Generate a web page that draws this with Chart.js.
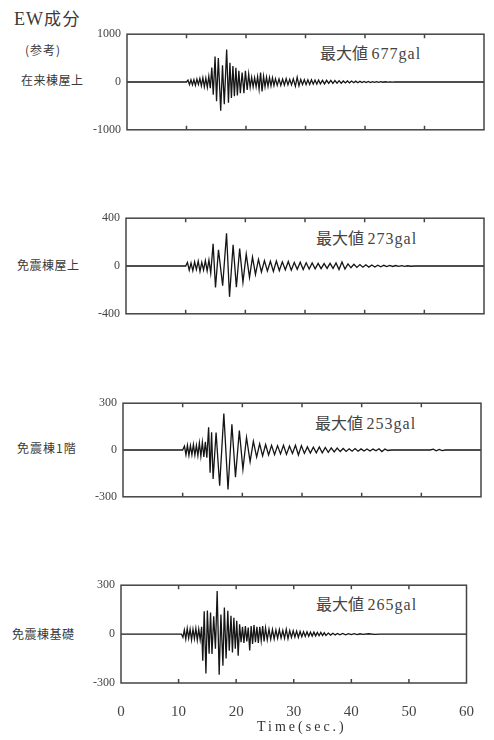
<!DOCTYPE html>
<html>
<head>
<meta charset="utf-8">
<script src="https://cdn.jsdelivr.net/npm/chart.js@4.4.0/dist/chart.umd.min.js"></script>
<style>
body{margin:0;background:#fff;width:494px;height:740px;position:relative;overflow:hidden;font-family:"Noto Sans CJK JP",sans-serif;color:#3a3a3a}
canvas{position:absolute;left:0}
.lbl{position:absolute;font-size:12px;line-height:14px;white-space:nowrap;letter-spacing:.5px}
.peak{position:absolute;font-size:16px;line-height:18px;white-space:nowrap;color:#444}
.peak span,.ser{font-family:"Liberation Serif",serif;letter-spacing:1px}
</style>
</head>
<body>
<div class="lbl" style="left:14px;top:7px;font-size:17px;line-height:22px;letter-spacing:1.5px"><span class="ser" style="font-size:18px">EW</span>成分</div>
<div class="lbl" style="left:25px;top:43px;letter-spacing:1px">(参考)</div>
<div class="lbl" style="left:21px;top:73px">在来棟屋上</div>
<div class="lbl" style="left:17px;top:258px">免震棟屋上</div>
<div class="lbl" style="left:17px;top:441px;letter-spacing:1px">免震棟1階</div>
<div class="lbl" style="left:12px;top:627px">免震棟基礎</div>

<div class="peak" style="left:320px;top:43px">最大値 <span>677gal</span></div>
<div class="peak" style="left:316px;top:228px">最大値 <span>273gal</span></div>
<div class="peak" style="left:315px;top:413px">最大値 <span>253gal</span></div>
<div class="peak" style="left:316px;top:594px">最大値 <span>265gal</span></div>

<canvas id="c1"></canvas>
<canvas id="c2"></canvas>
<canvas id="c3"></canvas>
<canvas id="c4"></canvas>

<div class="ser" style="position:absolute;left:257px;top:719px;font-size:14px;line-height:16px;letter-spacing:3px;color:#333">Time(sec.)</div>

<script>
// acceleration records (gal): turning points, time in sec.
// 在来棟屋上
const t1 = [
  0, 10.0, 10.25, 10.5, 10.75, 11.0, 11.25, 11.5, 11.75, 12.0,
  12.25, 12.5, 12.75, 13.0, 13.25, 13.5, 13.75, 14.0, 14.25, 14.5,
  14.8, 15.05, 15.35, 15.75, 16.05, 16.35, 16.75, 17.05, 17.3, 17.55,
  17.8, 18.05, 18.3, 18.55, 18.8, 19.05, 19.35, 19.65, 19.9, 20.2,
  20.45, 20.7, 20.95, 21.2, 21.45, 21.7, 21.95, 22.2, 22.45, 22.7,
  22.95, 23.2, 23.45, 23.7, 23.95, 24.2, 24.45, 24.7, 24.95, 25.25,
  25.55, 25.85, 26.15, 26.45, 26.75, 27.05, 27.35, 27.65, 27.95, 28.3,
  28.6, 28.9, 29.2, 29.5, 29.8, 30.1, 30.4, 30.7, 31.0, 31.3,
  31.6, 31.9, 32.2, 32.5, 32.85, 33.2, 33.55, 33.9, 34.25, 34.6,
  34.95, 35.3, 35.65, 36.0, 36.35, 36.7, 37.05, 37.4, 37.75, 38.1,
  38.45, 38.8, 39.15, 39.5, 39.85, 40.2, 40.55, 40.9, 41.25, 41.6,
  41.95, 42.3, 42.65, 43.0, 43.4, 43.8, 44.2, 44.6, 45.0, 60
];
const a1 = [
  0, 0, 40, -55, 45, -60, 50, -70, 60, -50,
  75, -80, 90, -100, 80, -110, 120, -130, 300, -267,
  533, -400, 500, -600, 350, -467, 677, -433, 400, -333,
  333, -300, 300, -280, 233, -233, 200, -233, 233, -167,
  167, -110, 100, -100, 90, -100, 110, -150, 200, -200,
  120, -100, 100, -90, 95, -80, 90, -75, 70, -70,
  65, -70, 60, -65, 70, -60, 55, -60, 65, -90,
  100, -80, 55, -55, 50, -55, 45, -50, 45, -45,
  40, -45, 40, -40, 35, -40, 35, -30, 35, -30,
  30, -25, 28, -25, 22, -20, 22, -18, 20, -15,
  18, -15, 14, -12, 12, -10, 12, -10, 8, -8,
  8, -6, 6, -5, 5, -4, 3, -3, 0, 0
];
// 免震棟屋上
const t2 = [
  0, 10.0, 10.3, 10.6, 10.9, 11.2, 11.5, 11.8, 12.1, 12.4,
  12.7, 13.0, 13.3, 13.6, 13.9, 14.2, 14.6, 15.0, 15.5, 16.2,
  16.85, 17.35, 17.95, 18.5, 19.05, 19.6, 20.15, 20.7, 21.2, 21.7,
  22.2, 22.7, 23.2, 23.7, 24.2, 24.7, 25.2, 25.7, 26.2, 26.7,
  27.2, 27.7, 28.2, 28.7, 29.2, 29.7, 30.2, 30.7, 31.2, 31.7,
  32.2, 32.7, 33.2, 33.7, 34.2, 34.7, 35.2, 35.7, 36.2, 36.7,
  37.2, 37.7, 38.2, 38.7, 39.2, 39.7, 40.2, 40.7, 41.2, 41.7,
  42.2, 42.7, 43.2, 43.7, 44.2, 44.7, 45.2, 45.7, 46.2, 46.7,
  47.2, 47.7, 48.5, 60
];
const a2 = [
  0, 0, 30, -35, 25, -40, 35, -30, 40, -45,
  30, -35, 45, -40, 50, -60, 185, -180, 135, -165,
  273, -258, 177, -177, 145, -135, 100, -95, 75, -70,
  55, -50, 45, -42, 40, -45, 42, -38, 35, -32,
  38, -35, 30, -28, 32, -30, 27, -25, 25, -24,
  22, -22, 20, -20, 22, -20, 25, -30, 33, -25,
  18, -15, 14, -12, 12, -10, 10, -9, 8, -8,
  7, -6, 6, -5, 5, -4, 4, -3, 3, -3,
  2, -2, 0, 0
];
// 免震棟1階
const t3 = [
  0, 10.0, 10.3, 10.55, 10.8, 11.05, 11.3, 11.55, 11.8, 12.05,
  12.3, 12.55, 12.8, 13.05, 13.3, 13.55, 13.8, 14.05, 14.35, 14.6,
  14.85, 15.1, 15.6, 16.2, 16.9, 17.6, 18.25, 18.85, 19.5, 20.1,
  20.7, 21.3, 21.85, 22.4, 22.9, 23.4, 23.9, 24.4, 24.9, 25.4,
  25.9, 26.4, 26.9, 27.4, 27.9, 28.4, 28.9, 29.4, 29.9, 30.4,
  30.9, 31.4, 31.9, 32.4, 32.9, 33.4, 33.9, 34.4, 34.9, 35.4,
  35.9, 36.4, 36.9, 37.4, 37.9, 38.4, 38.9, 39.4, 39.9, 40.4,
  40.9, 41.4, 41.9, 42.4, 42.9, 43.4, 43.9, 44.4, 45.0, 51.5,
  52.0, 52.5, 53.0, 53.5, 54.0, 60
];
const a3 = [
  0, 0, 25, -30, 30, -35, 28, -30, 35, -32,
  30, -35, 45, -40, 50, -45, 52, -50, 145, -145,
  114, -186, 112, -229, 233, -253, 165, -175, 124, -124,
  80, -75, 55, -45, 40, -38, 35, -32, 30, -30,
  28, -25, 30, -28, 25, -22, 30, -32, 28, -22,
  20, -20, 18, -18, 20, -18, 16, -15, 14, -12,
  12, -10, 10, -9, 8, -8, 9, -8, 7, -6,
  6, -6, 6, -5, 8, -10, 6, -3, 0, 0,
  5, -5, 4, -4, 0, 0
];
// 免震棟基礎
const t4 = [
  0, 10.5, 10.75, 11.0, 11.25, 11.5, 11.75, 12.0, 12.25, 12.5,
  12.75, 13.0, 13.25, 13.5, 13.75, 14.0, 14.2, 14.45, 14.75, 15.0,
  15.3, 15.55, 15.8, 16.1, 16.4, 16.7, 17.05, 17.35, 17.7, 17.95,
  18.25, 18.55, 18.8, 19.1, 19.35, 19.6, 19.85, 20.1, 20.35, 20.6,
  20.85, 21.1, 21.35, 21.6, 21.85, 22.1, 22.35, 22.6, 22.85, 23.1,
  23.35, 23.6, 23.85, 24.1, 24.35, 24.6, 24.85, 25.1, 25.4, 25.7,
  26.0, 26.3, 26.6, 26.9, 27.2, 27.5, 27.8, 28.1, 28.4, 28.7,
  29.0, 29.3, 29.6, 29.9, 30.2, 30.5, 30.8, 31.1, 31.4, 31.7,
  32.0, 32.3, 32.6, 32.9, 33.2, 33.5, 33.8, 34.1, 34.4, 34.7,
  35.0, 35.3, 35.6, 36.0, 36.4, 36.8, 37.2, 37.6, 38.0, 38.5,
  39.0, 39.5, 40.0, 40.5, 41.0, 41.5, 42.0, 43.0, 44.0, 45.0,
  60
];
const a4 = [
  0, 0, -20, 25, -30, 35, -25, 30, -35, 30,
  -28, 35, -37, 30, -35, 45, -163, 140, -242, 145,
  -120, 133, -122, 110, -90, 265, -250, 120, -194, 163,
  -150, 143, -102, 112, -112, 100, -90, 82, -133, 60,
  -50, 45, -55, 50, -45, 40, -100, 50, -60, 55,
  -50, 45, -55, 45, -40, 50, -45, 38, -35, 30,
  -32, 28, -30, 25, -25, 28, -24, 22, -26, 30,
  -28, 22, -20, 20, -18, 18, -20, 16, -16, 15,
  -14, 14, -13, 12, -12, 12, -11, 10, -10, 10,
  -9, 8, -8, 6, -6, 5, -5, 4, -4, 4,
  -4, 3, -3, 3, -3, 2, -2, 2, -2, 0,
  0
];
const yLimits = [1000, 400, 300, 300];
const xMin = 0, xMax = 60, xStep = 10;

const AXW = 70;   // y axis width
const PAD = 12;
const panels = [
  {id: "c1", t: t1, a: a1, lim: yLimits[0], box: [127, 33, 484, 131]},
  {id: "c2", t: t2, a: a2, lim: yLimits[1], box: [126, 217, 484, 315]},
  {id: "c3", t: t3, a: a3, lim: yLimits[2], box: [123, 402, 481, 498]},
  {id: "c4", t: t4, a: a4, lim: yLimits[3], box: [121, 584, 480, 683], last: true}
];

// box frame with short inward ticks, like the original plotter output
const frame = {
  id: "frame",
  afterDatasetsDraw(chart) {
    const {ctx, chartArea: c, scales: {x}} = chart;
    ctx.save();
    ctx.strokeStyle = "#444";
    ctx.lineWidth = 1.5;
    ctx.strokeRect(c.left, c.top, c.right - c.left, c.bottom - c.top);
    x.ticks.forEach(tk => {
      if (tk.value <= xMin || tk.value >= xMax) return;
      const px = x.getPixelForValue(tk.value);
      ctx.beginPath();
      ctx.moveTo(px, c.top); ctx.lineTo(px, c.top + 4);
      ctx.moveTo(px, c.bottom); ctx.lineTo(px, c.bottom - 4);
      ctx.stroke();
    });
    ctx.restore();
  }
};

panels.forEach(p => {
  const [l, top, r, b] = p.box;
  const xh = p.last ? 40 : 0;
  const bottomPad = p.last ? 8 : PAD;
  const cv = document.getElementById(p.id);
  cv.width = 494;
  cv.height = (b - top) + PAD + xh + bottomPad;
  cv.style.top = (top - PAD) + "px";
  new Chart(cv, {
    type: "line",
    data: {
      datasets: [{
        data: p.t.map((v, i) => ({x: v, y: p.a[i]})),
        borderColor: "#151515",
        borderWidth: 1.3,
        pointRadius: 0,
        tension: 0
      }]
    },
    options: {
      responsive: false,
      animation: false,
      devicePixelRatio: 1,
      layout: {padding: {left: l - AXW, right: 494 - r, top: PAD, bottom: bottomPad}},
      plugins: {legend: {display: false}, tooltip: {enabled: false}},
      scales: {
        x: {
          type: "linear", min: xMin, max: xMax,
          display: !!p.last,
          afterFit: s => { s.height = xh; },
          grid: {display: false, drawTicks: false},
          border: {display: false},
          ticks: {stepSize: xStep, padding: 20, color: "#444",
                  font: {family: "'Liberation Serif', serif", size: 15},
                  callback: v => String(v)}
        },
        y: {
          min: -p.lim, max: p.lim,
          afterFit: s => { s.width = AXW; },
          grid: {display: false, drawTicks: false},
          border: {display: false},
          ticks: {stepSize: p.lim, padding: 6, color: "#444",
                  font: {family: "'Liberation Serif', serif", size: 12},
                  callback: v => String(v)}
        }
      }
    },
    plugins: [frame]
  });
});
</script>
</body>
</html>
